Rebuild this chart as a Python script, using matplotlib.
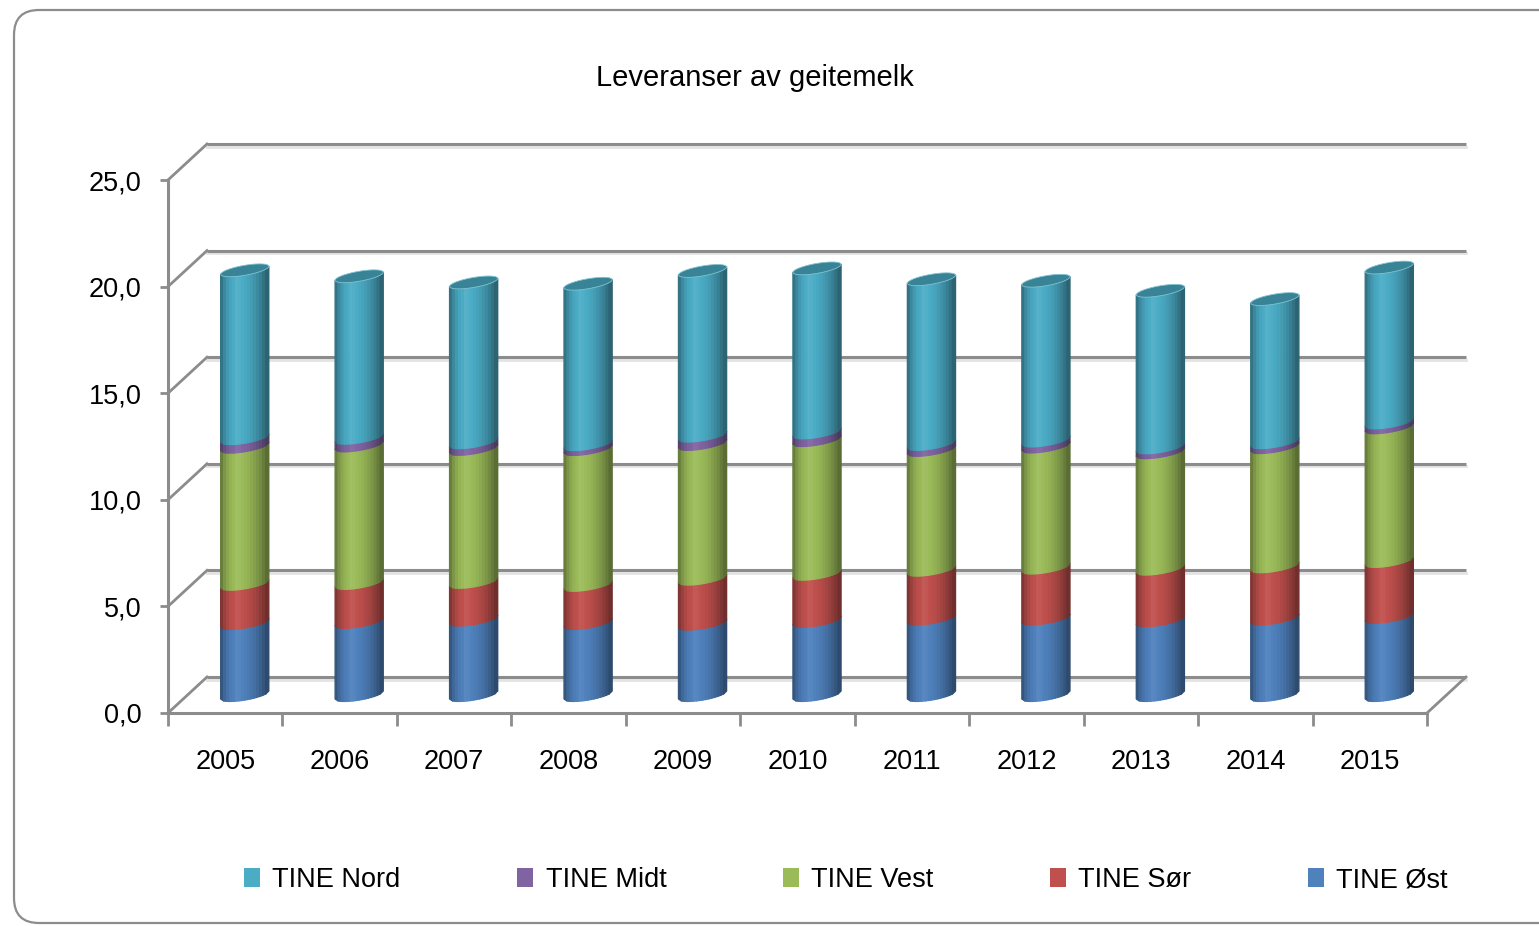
import numpy as np
import matplotlib
matplotlib.use("Agg")
import matplotlib.pyplot as plt
from matplotlib.collections import PolyCollection
from matplotlib.patches import Patch, FancyBboxPatch
from matplotlib.transforms import ScaledTranslation

plt.rcParams['font.family'] = ['Liberation Sans', 'DejaVu Sans']

### data (mill. liter)
years = ['2005', '2006', '2007', '2008', '2009', '2010',
         '2011', '2012', '2013', '2014', '2015']
tine_ost  = [3.38, 3.43, 3.54, 3.38, 3.35, 3.48, 3.59, 3.59, 3.51, 3.59, 3.67]
tine_sor  = [1.84, 1.83, 1.77, 1.79, 2.11, 2.21, 2.29, 2.39, 2.42, 2.45, 2.62]
tine_vest = [6.43, 6.45, 6.24, 6.37, 6.32, 6.27, 5.62, 5.68, 5.46, 5.59, 6.27]
tine_midt = [0.40, 0.36, 0.31, 0.23, 0.39, 0.36, 0.28, 0.28, 0.23, 0.23, 0.23]
tine_nord = [7.87, 7.57, 7.49, 7.52, 7.72, 7.69, 7.72, 7.49, 7.34, 6.71, 7.26]

series = [('TINE Øst', tine_ost, '#4f81bd'),
          ('TINE Sør', tine_sor, '#c0504d'),
          ('TINE Vest', tine_vest, '#9bbb59'),
          ('TINE Midt', tine_midt, '#8064a2'),
          ('TINE Nord', tine_nord, '#4bacc6')]

W, H = 1539, 926
grid_col = '#8c8c8c'

fig = plt.figure(figsize=(W / 100, H / 100), dpi=100)
fig.patch.set_facecolor('white')

# rounded frame round the chart
frame = FancyBboxPatch((0.14, 0.03), 16.0, 9.13,
                       boxstyle='round,pad=0,rounding_size=0.25',
                       transform=fig.dpi_scale_trans, facecolor='none',
                       edgecolor=grid_col, linewidth=1.6)
fig.patches.append(frame)

ax = fig.add_axes([168 / W, (H - 713) / H, (1427 - 168) / W, (713 - 180) / H])
ax.set_xlim(-0.5, 10.5)
ax.set_ylim(0, 25)
ax.patch.set_visible(False)

# back wall / middle (bars) offsets, in pixels -> inches
back = ax.transData + ScaledTranslation(0.39, 0.36, fig.dpi_scale_trans)
shadow = ax.transData + ScaledTranslation(0.39, 0.335, fig.dpi_scale_trans)
mid = ax.transData + ScaledTranslation(0.195, 0.18, fig.dpi_scale_trans)

yticks = np.arange(0, 26, 5)
for v in yticks:
    ax.plot([-0.5, 10.5], [v, v], transform=shadow, color='#e3e3e3',
            lw=2.0, clip_on=False, zorder=0.5)
    ax.plot([-0.5, 10.5], [v, v], transform=back, color=grid_col,
            lw=2.2, clip_on=False, zorder=1, solid_capstyle='butt')

# side-wall diagonals and floor edge
inv = fig.transFigure.inverted()
for (x0, v) in [(-0.5, v) for v in yticks] + [(10.5, 0)]:
    p0 = ax.transData.transform((x0, v))
    p1 = p0 + np.array([39, 36])
    q = inv.transform([p0, p1])
    fig.add_artist(plt.Line2D(q[:, 0], q[:, 1], transform=fig.transFigure,
                              color=grid_col, lw=2.0))

# cylinders
hw = 0.21          # half width of a bar (category units)
e = 5 / 21.32      # ellipse half height (value units)
t = 4 / 21.32      # tilt of ellipse
nstrip = 16
u_edges = np.linspace(-1, 1, nstrip + 1)

def shade(u):
    if u < -0.35:
        return 1.0 - 0.40 * ((u + 0.35) / 0.65) ** 2
    return 1.02 - 0.48 * ((u + 0.35) / 1.35) ** 2

def off(u):
    return -e * np.sqrt(max(1 - u * u, 0)) + t * u

polys, cols = [], []
bottoms = np.zeros(len(years))
for name, vals, col in series:
    base = np.array(matplotlib.colors.to_rgb(col))
    for i, v in enumerate(vals):
        b, tp = bottoms[i], bottoms[i] + v
        for k in range(nstrip):
            u0, u1 = u_edges[k], u_edges[k + 1]
            x0, x1 = i + u0 * hw, i + u1 * hw
            polys.append([(x0, b + off(u0)), (x1, b + off(u1)),
                          (x1, tp + off(u1)), (x0, tp + off(u0))])
            s = shade((u0 + u1) / 2)
            c = np.clip(base * s, 0, 1) if s <= 1 else np.clip(base + (1 - base) * (s - 1) * 3, 0, 1)
            cols.append(c)
    bottoms += np.array(vals)

pc = PolyCollection(polys, facecolors=cols, edgecolors=cols, linewidths=1.0,
                    transform=mid, zorder=3)
ax.add_collection(pc, autolim=False)

# top caps
th = np.linspace(0, 2 * np.pi, 80)
caps = []
for i, tot in enumerate(bottoms):
    caps.append(np.column_stack([i + hw * np.cos(th),
                                 tot + e * np.sin(th) + t * np.cos(th)]))
cap_col = np.array(matplotlib.colors.to_rgb('#4bacc6')) * 0.76
ax.add_collection(PolyCollection(caps, facecolors=[cap_col], edgecolors='#7fc3d4',
                                 linewidths=0.6, transform=mid, zorder=4),
                  autolim=False)

# axes
for sp in ['top', 'right']:
    ax.spines[sp].set_visible(False)
for sp in ['left', 'bottom']:
    ax.spines[sp].set_color(grid_col)
    ax.spines[sp].set_linewidth(2.2)

ax.set_yticks(yticks)
ax.set_yticklabels([f'{v:.1f}'.replace('.', ',') for v in yticks], fontsize=19.5)
ax.tick_params(axis='y', length=6, width=2, color=grid_col, pad=13)

ax.set_xticks(range(len(years)))
ax.set_xticklabels(years, fontsize=19.5)
ax.set_xticks(np.arange(-0.5, len(years), 1), minor=True)
ax.tick_params(axis='x', which='major', length=0, pad=26)
ax.tick_params(axis='x', which='minor', length=9, width=2, color=grid_col)

fig.text(755 / W, 1 - 78 / H, 'Leveranser av geitemelk', fontsize=21,
         ha='center', va='center')

order = [4, 3, 2, 1, 0]
handles = [Patch(facecolor=series[j][2], edgecolor='none') for j in order]
labels = [series[j][0] for j in order]
fig.legend(handles, labels, loc='center', bbox_to_anchor=(846 / W, 1 - 880 / H),
           ncol=5, frameon=False, fontsize=19.5, handlelength=0.6,
           handleheight=0.75, handletextpad=0.45, columnspacing=4.3)

fig.savefig('out.png', dpi=100, facecolor='white')
